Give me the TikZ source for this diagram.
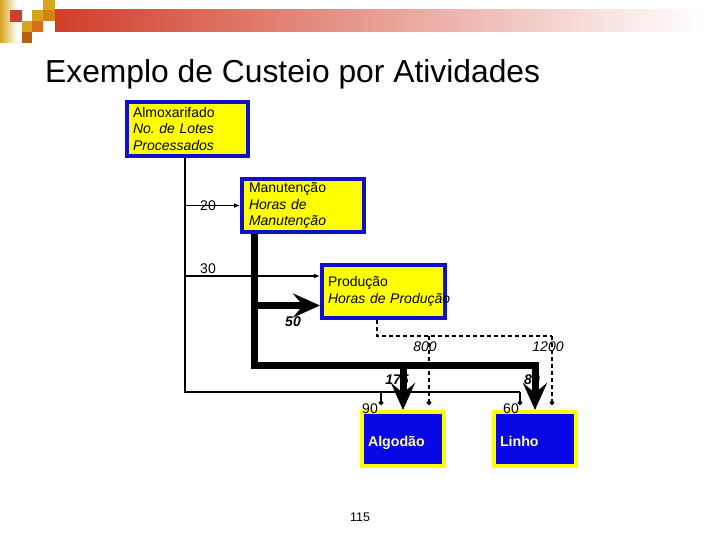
\documentclass[tikz,border=0pt]{standalone}
\usepackage{fontspec}
\setmainfont{Liberation Sans}
\usetikzlibrary{arrows.meta}
\definecolor{boxblue}{RGB}{16,16,200}
\definecolor{fillblue}{RGB}{8,8,230}
\definecolor{boxyellow}{RGB}{255,255,0}
\definecolor{lightyel}{RGB}{255,255,160}
\definecolor{hdrred}{RGB}{208,62,42}
\definecolor{hdrgold}{RGB}{214,164,32}
\definecolor{hdrorange}{RGB}{214,112,22}
\frenchspacing
\begin{document}
\begin{tikzpicture}[x=1pt,y=-1pt,
  txt/.style={font=\fontsize{14}{16.5}\selectfont, inner sep=0pt},
  ybox/.style={draw=boxblue, line width=4pt, fill=boxyellow, align=left,
     font=\fontsize{14}{16.5}\selectfont, inner xsep=6pt, inner ysep=0pt},
  bbox/.style={draw=boxyellow, line width=4pt, fill=fillblue, align=left,
     text=lightyel, font=\fontsize{14.2}{16}\selectfont\bfseries, inner xsep=5pt,
     minimum width=82pt, minimum height=54pt, text width=70pt,
     text height=14pt, text depth=0pt},
  thinline/.style={line width=1.3pt},
  thickline/.style={line width=7pt},
  dashline/.style={line width=1.3pt, dash pattern=on 4pt off 3pt},
  thinarrow/.style={thinline, -{Latex[length=6pt,width=5pt]}},
  dotend/.style={-{Circle[length=4.5pt]}},
  bigarrow/.style={thickline, -{Stealth[length=27pt,width=24pt,inset=10pt]}}
]
\useasboundingbox (0,0) rectangle (720,540);
% header
\shade[left color=hdrgold, right color=white] (0,0) rectangle (17,43);
\shade[left color=hdrred, right color=white] (55,10) rectangle (700,32);
\fill[hdrred] (10,10) rectangle (22,22);
\fill[hdrgold] (43,0) rectangle (55,10);
\fill[hdrgold] (32,10) rectangle (43,21);
\fill[hdrorange!70!hdrgold] (43,10) rectangle (55,21);
\fill[hdrgold] (22,21) rectangle (32,32);
\fill[hdrorange] (32,21) rectangle (43,32);
\fill[hdrorange!85!black] (22,32) rectangle (32,43);
\node[anchor=base west, inner sep=0pt, font=\fontsize{31.8}{33}\selectfont] (title) at (45,83) {Exemplo de Custeio por Atividades};

% boxes
\node[ybox, minimum width=121pt, minimum height=54pt, text width=109pt] (almox) at (187.5,129)
  {Almoxarifado\\ \textit{No. de Lotes}\\ \textit{Processados}};
\node[ybox, minimum width=122pt, minimum height=53pt, text width=108pt, inner xsep=7pt] (manut) at (303,205.5)
  {Manutenção\\ \textit{Horas de}\\ \textit{Manutenção}};
\node[ybox, minimum width=123pt, minimum height=53pt, text width=111pt] (prod) at (383.5,291.5)
  {Produção\\ \mbox{\textit{Horas de Produção}}};
\node[bbox] (alg) at (403,439) {Algodão};
\node[bbox] (lin) at (535,439) {Linho};

% coordinates
\coordinate (tc) at (185,392);
\coordinate (ta) at (381,405);
\coordinate (tl) at (520,405);
\coordinate (kc) at (254,365);
\coordinate (kb) at (254,305.5);
\coordinate (dc) at (377,336);
\coordinate (da) at (429,405);
\coordinate (dl) at (552,405);

% thin lines
\draw[thinline] (almox.south -| tc) -- (tc) -- (tc -| tl);
\draw[thinline, dotend] (tc -| ta) -- (ta);
\draw[thinline, dotend] (tc -| tl) -- (tl);
\draw[thinarrow] (manut.west -| tc) -- (manut.west);
\draw[thinarrow] (tc |- 0,276) -- (prod.west |- 0,276);

% dashed lines
\draw[dashline] (prod.south -| dc) -- (dc) -- (dc -| dl);
\draw[dashline, dotend] (dc -| dl) -- (dl);
\draw[dashline, dotend] (dc -| da) -- (da);

% labels
\node[txt] (l20) at (208,206) {20};
\node[txt] (l30) at (208,269) {30};
\node[txt, font=\fontsize{14}{16}\selectfont\bfseries\itshape] (l50) at (293,322) {50};
\node[txt, font=\fontsize{14}{16}\selectfont\itshape] (l800) at (425,347) {800};
\node[txt, font=\fontsize{14}{16}\selectfont\itshape] (l1200) at (548,347) {1200};
\node[txt, font=\fontsize{14}{16}\selectfont\bfseries\itshape] (l175) at (397,380) {175};
\node[txt, font=\fontsize{14}{16}\selectfont\bfseries\itshape] (l80) at (532,380) {80};
\node[txt] (l90) at (370,409) {90};
\node[txt] (l60) at (511,409) {60};
\node[txt, font=\fontsize{12.5}{14}\selectfont] (l115) at (360,517) {115};

% thick lines
\draw[thickline, miter limit=10] (manut.south -| kc) -- (kc) -- (kc -| lin.north) -- ++(0,8);
\draw[bigarrow] (kc -| lin.north) -- (lin.north);
\draw[bigarrow] (kc -| alg.north) -- (alg.north);
\draw[bigarrow] (kb) -- (prod.west |- kb);
\end{tikzpicture}
\end{document}
